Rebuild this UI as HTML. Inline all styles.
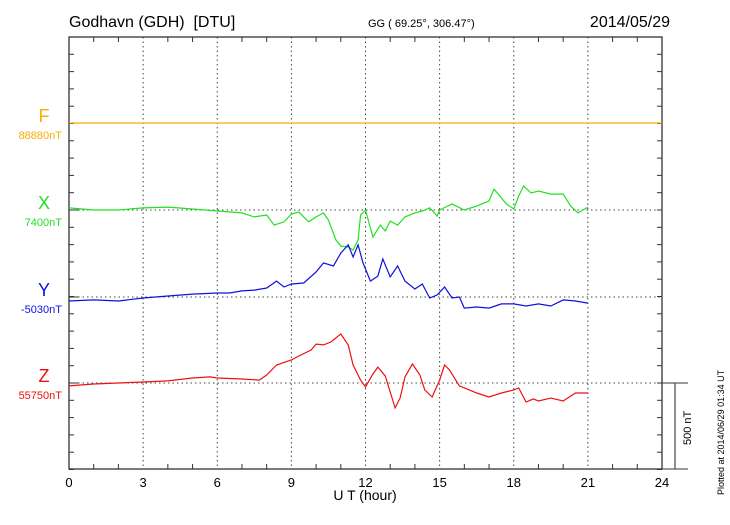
<!DOCTYPE html>
<html><head><meta charset="utf-8"><style>
body{margin:0;background:#fff;}
svg text{font-family:"Liberation Sans",sans-serif;white-space:pre;}
</style></head><body>
<svg id="c" width="730" height="520" xmlns="http://www.w3.org/2000/svg">
<text x="69" y="27" font-size="16" xml:space="preserve">Godhavn (GDH)  [DTU]</text>
<text x="368" y="27" font-size="11">GG ( 69.25°, 306.47°)</text>
<text x="670" y="27" font-size="16" text-anchor="end">2014/05/29</text>
<text x="365" y="500" font-size="14" text-anchor="middle">U T (hour)</text>
<text transform="translate(724,495) rotate(-90)" font-size="9">Plotted at 2014/06/29 01:34 UT</text>
<text transform="translate(691,445) rotate(-90)" font-size="11">500 nT</text>
<g id="g"></g>
</svg>
<script>
const hoursX=[0,1,2,3,4,5,6,7,7.5,8,8.3,8.7,9,9.3,9.7,10,10.3,10.5,10.8,11,11.3,11.5,11.7,11.8,12,12.3,12.6,12.8,13,13.3,13.6,14,14.3,14.6,14.9,15,15.5,16,16.5,17,17.2,17.4,17.7,18,18.2,18.4,18.7,19,19.5,20,20.3,20.6,21];
const valsX=[12,0,0,12,17,6,-6,-17,-40,-29,-87,-69,-23,-12,-69,-40,-17,-58,-173,-208,-214,-231,-173,-29,0,-156,-87,-121,-64,-87,-40,-17,-6,12,-35,0,35,0,23,52,121,87,35,6,81,139,98,110,92,92,23,-17,17];
const hoursY=[0,1,2,3,4,5,6,6.5,7,7.5,8,8.4,8.7,9,9.5,10,10.3,10.7,11,11.3,11.5,11.7,11.9,12.2,12.5,12.7,13,13.3,13.6,14,14.3,14.6,14.9,15.2,15.5,15.8,16,16.5,17,17.5,18,18.5,19,19.5,20,20.5,21];
const valsY=[-23,-17,-23,-6,6,17,23,23,35,40,52,92,58,75,81,145,197,179,254,301,231,301,197,92,121,220,116,179,92,46,75,-6,12,58,-6,0,-64,-58,-64,-40,-40,-52,-40,-52,-17,-23,-35];
const hoursZ=[0,1,2,3,4,5,5.7,6,7,7.7,8,8.4,9,9.3,9.8,10,10.3,10.6,11,11.3,11.5,11.8,12,12.3,12.5,12.8,13,13.2,13.4,13.6,13.9,14.2,14.4,14.7,15,15.2,15.4,15.8,16.2,16.5,17,17.5,18,18.2,18.5,18.8,19,19.5,20,20.5,21];
const valsZ=[-17,-6,0,6,12,29,35,29,23,17,46,104,133,156,191,225,220,237,283,220,104,17,-23,52,92,40,-52,-144,-87,35,110,46,-40,-81,17,104,75,-17,-40,-58,-81,-58,-40,-29,-110,-92,-104,-87,-104,-58,-58];
const hoursF=[0,24];
const valsF=[0,0];
const xTicks=[0,3,6,9,12,15,18,21,24];
const comps=["F","X","Y","Z"];
const baseLabels=["88880nT","7400nT","-5030nT","55750nT"];
const colors=["#f5b000","#22e022","#1010e0","#ee1010"];

const L=69,R=662,T=37,B=469,NT_PX=86.5/500;
const baseY=[123,210,297,383];
const xs=h=>L+(R-L)*h/24;
const ys=(i,v)=>baseY[i]-v*NT_PX;
const g=document.getElementById('g');
const NS="http://www.w3.org/2000/svg";
function mk(t,a){const e=document.createElementNS(NS,t);for(const k in a)e.setAttribute(k,a[k]);g.appendChild(e);return e;}

xTicks.slice(1,-1).forEach(h=>{const e=mk('line',{x1:xs(h),x2:xs(h),y1:T,y2:B,stroke:'#444','stroke-dasharray':'1.5,3','stroke-width':1});

});
baseY.forEach(y=>{const e=mk('line',{x1:L,x2:R,y1:y,y2:y,stroke:'#444','stroke-dasharray':'1.5,3','stroke-width':1});

});
const fr=mk('rect',{x:L,y:T,width:R-L,height:B-T,fill:'none',stroke:'#333','stroke-width':1.3});


for(let h=0;h<=24;h++){
 const len=h%3==0?0:5;
 if(len){mk('line',{x1:xs(h),x2:xs(h),y1:T,y2:T+len,stroke:'#333'});mk('line',{x1:xs(h),x2:xs(h),y1:B,y2:B-len,stroke:'#333'});}
}
for(let y=T;y<=B+1;y+=17.3){
 mk('line',{x1:L,x2:L+5,y1:y,y2:y,stroke:'#333'});
 mk('line',{x1:R,x2:R-5,y1:y,y2:y,stroke:'#333'});
}
baseY.forEach(y=>{mk('line',{x1:L,x2:L+10,y1:y,y2:y,stroke:'#333'});});
xTicks.forEach(h=>{const t=mk('text',{x:xs(h),y:487,'font-size':13,'text-anchor':'middle'});t.textContent=h;

});
mk('line',{x1:R,x2:688,y1:383,y2:383,stroke:'#333'});
mk('line',{x1:R,x2:688,y1:B,y2:B,stroke:'#333'});
const sb=mk('line',{x1:675,x2:675,y1:383,y2:B,stroke:'#555','stroke-width':1.3});


comps.forEach((c,i)=>{
 const a=mk('text',{x:44,y:baseY[i]-1,'font-size':18,'text-anchor':'middle',fill:colors[i]});a.textContent=c;
 
 
 const b=mk('text',{x:62,y:baseY[i]+16,'font-size':11,'text-anchor':'end',fill:colors[i]});b.textContent=baseLabels[i];
 
 
});
const series=[[hoursF,valsF],[hoursX,valsX],[hoursY,valsY],[hoursZ,valsZ]];
series.forEach((s,i)=>{
 const pts=s[0].map((h,j)=>xs(h).toFixed(1)+','+ys(i,s[1][j]).toFixed(1)).join(' ');
 const p=mk('polyline',{points:pts,fill:'none',stroke:colors[i],'stroke-width':1.2});
 
 
});
</script>
</body></html>
